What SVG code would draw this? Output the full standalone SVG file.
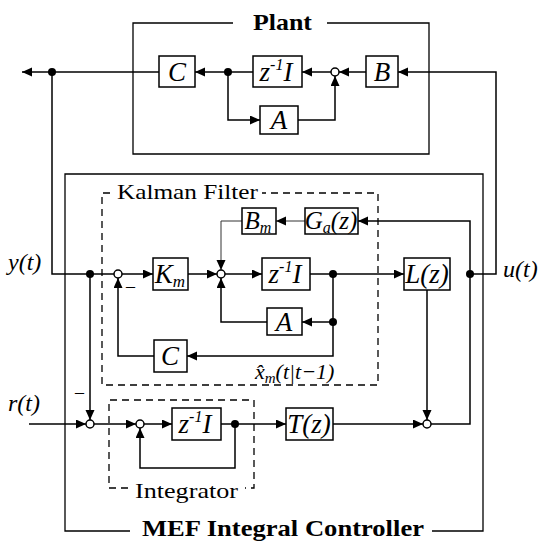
<svg xmlns="http://www.w3.org/2000/svg" width="541" height="541" viewBox="0 0 541 541">
<defs>
<marker id="ah" markerWidth="11" markerHeight="10" refX="10" refY="4.5" orient="auto" markerUnits="userSpaceOnUse"><path d="M0,0 L10,4.5 L0,9 z" fill="#000"/></marker>
<style>
.w{fill:none;stroke:#000;stroke-width:1.5}
.t{fill:none;stroke:#333;stroke-width:1}
.a{marker-end:url(#ah)}
.box{fill:#fff;stroke:#000;stroke-width:1.5}
.frame{fill:none;stroke:#000;stroke-width:1.3}
.dash{fill:none;stroke:#000;stroke-width:1.3;stroke-dasharray:7 5}
.sum{fill:#fff;stroke:#000;stroke-width:1.5}
.dot{fill:#000}
text{font-family:'Liberation Serif','Times New Roman','DejaVu Serif',serif;fill:#000}
.lb{font-style:italic;font-size:27px;text-anchor:middle}
.sm{font-style:italic;font-size:25px;text-anchor:middle}
.sig{font-style:italic;font-size:24px}
.ttl{font-weight:bold;font-size:23px}
.grp{font-size:22px}
</style>
</defs>
<rect width="541" height="541" fill="#fff"/>

<g id="frames">
<path class="frame" d="M233,23 H133 V154 H429 V23 H327"/>
<text class="ttl" x="253" y="30" textLength="59" lengthAdjust="spacingAndGlyphs">Plant</text>
<path class="frame" d="M130,531 H65 V174 H483 V531 H432"/>
<text class="ttl" x="142" y="536" textLength="282" lengthAdjust="spacingAndGlyphs">MEF Integral Controller</text>
<path class="dash" d="M110,193 H102 V385 H378 V193 H262"/>
<text class="grp" x="117" y="199" textLength="141" lengthAdjust="spacingAndGlyphs">Kalman Filter</text>
<path class="dash" d="M128,488 H109 V400 H254 V488 H245"/>
<text class="grp" x="135" y="498" textLength="103" lengthAdjust="spacingAndGlyphs">Integrator</text>
</g>

<g id="connectors">
<path class="w a" d="M159,72 H22"/>
<path class="w a" d="M253,72 H195"/>
<path class="w a" d="M331,72 H302"/>
<path class="w a" d="M366,72 H339"/>
<path class="w a" d="M228,72 V120 H260"/>
<path class="w a" d="M298,120 H335 V76"/>
<path class="w" d="M52,72 V274 H114"/>
<path class="w a" d="M122,274 H153"/>
<path class="w a" d="M188,274 H217"/>
<path class="w a" d="M225,274 H262"/>
<path class="w a" d="M310,274 H404"/>
<path class="w a" d="M333,274 V356 H187"/>
<path class="w a" d="M333,322 H302"/>
<path class="w a" d="M267,322 H221 V278"/>
<path class="w a" d="M154,356 H118 V278"/>
<path class="t a" d="M305,221 H276"/>
<path class="t a" d="M242,221 H221 V270"/>
<path class="w a" d="M431,424 H470 V221 H358"/>
<path class="w a" d="M470,274 H496 V72 H398"/>
<path class="w a" d="M90,274 V420"/>
<path class="w a" d="M29,424 H86"/>
<path class="w a" d="M94,424 H136"/>
<path class="w a" d="M144,424 H172"/>
<path class="w a" d="M221,424 H286"/>
<path class="w a" d="M235,424 V468 H140 V428"/>
<path class="w a" d="M333,424 H423"/>
<path class="w a" d="M427,290 V420"/>
</g>

<g id="junctions">
<circle class="dot" cx="52" cy="72" r="4"/>
<circle class="dot" cx="228" cy="72" r="4"/>
<circle class="dot" cx="90" cy="274" r="4"/>
<circle class="dot" cx="333" cy="274" r="4"/>
<circle class="dot" cx="333" cy="322" r="4"/>
<circle class="dot" cx="470" cy="274" r="4"/>
<circle class="dot" cx="235" cy="424" r="4"/>
</g>

<g id="sum-plant"><circle class="sum" cx="335" cy="72" r="4"/></g>
<g id="sum-k1"><circle class="sum" cx="118" cy="274" r="4"/><text x="126" y="292" font-size="18">–</text></g>
<g id="sum-k2"><circle class="sum" cx="221" cy="274" r="4"/></g>
<g id="sum-err"><circle class="sum" cx="90" cy="424" r="4"/><text x="75" y="398" font-size="18">–</text></g>
<g id="sum-int"><circle class="sum" cx="140" cy="424" r="4"/></g>
<g id="sum-u"><circle class="sum" cx="427" cy="424" r="4"/></g>

<g id="plant-C"><rect class="box" x="159" y="56" width="36" height="31"/><text class="lb" x="177" y="81">C</text></g>
<g id="plant-z"><rect class="box" x="253" y="56" width="49" height="31"/><text class="lb" x="276" y="81">z<tspan font-size="16" dy="-11">-1</tspan><tspan dy="11">I</tspan></text></g>
<g id="plant-B"><rect class="box" x="366" y="56" width="32" height="31"/><text class="lb" x="382" y="81">B</text></g>
<g id="plant-A"><rect class="box" x="260" y="106" width="38" height="28"/><text class="lb" x="279" y="129">A</text></g>

<g id="Km"><rect class="box" x="153" y="258" width="35" height="32"/><text class="lb" x="170" y="283">K<tspan font-size="17" dy="4">m</tspan></text></g>
<g id="kz"><rect class="box" x="262" y="258" width="48" height="32"/><text class="lb" x="285" y="283">z<tspan font-size="16" dy="-11">-1</tspan><tspan dy="11">I</tspan></text></g>
<g id="Lz"><rect class="box" x="404" y="258" width="46" height="32"/><text class="lb" x="427" y="283">L(z)</text></g>
<g id="Bm"><rect class="box" x="242" y="208" width="34" height="26"/><text class="sm" x="258" y="229">B<tspan font-size="16" dy="4">m</tspan></text></g>
<g id="Ga"><rect class="box" x="305" y="208" width="53" height="26"/><text class="sm" x="331" y="229">G<tspan font-size="16" dy="4">a</tspan><tspan dy="-4">(z)</tspan></text></g>
<g id="kA"><rect class="box" x="267" y="308" width="35" height="27"/><text class="lb" x="284" y="331">A</text></g>
<g id="kC"><rect class="box" x="154" y="340" width="33" height="32"/><text class="lb" x="170" y="365">C</text></g>

<g id="iz"><rect class="box" x="172" y="408" width="49" height="32"/><text class="lb" x="195" y="433">z<tspan font-size="16" dy="-11">-1</tspan><tspan dy="11">I</tspan></text></g>
<g id="Tz"><rect class="box" x="286" y="408" width="47" height="32"/><text class="lb" x="309" y="433">T(z)</text></g>

<g id="labels">
<text class="sig" x="8" y="270">y(t)</text>
<text class="sig" x="503" y="277">u(t)</text>
<text class="sig" x="8" y="411">r(t)</text>
<text class="sig" x="255" y="379" style="font-size:22px">x̂<tspan font-size="15" dy="4">m</tspan><tspan dy="-4">(t|t−1)</tspan></text>
</g>
</svg>
